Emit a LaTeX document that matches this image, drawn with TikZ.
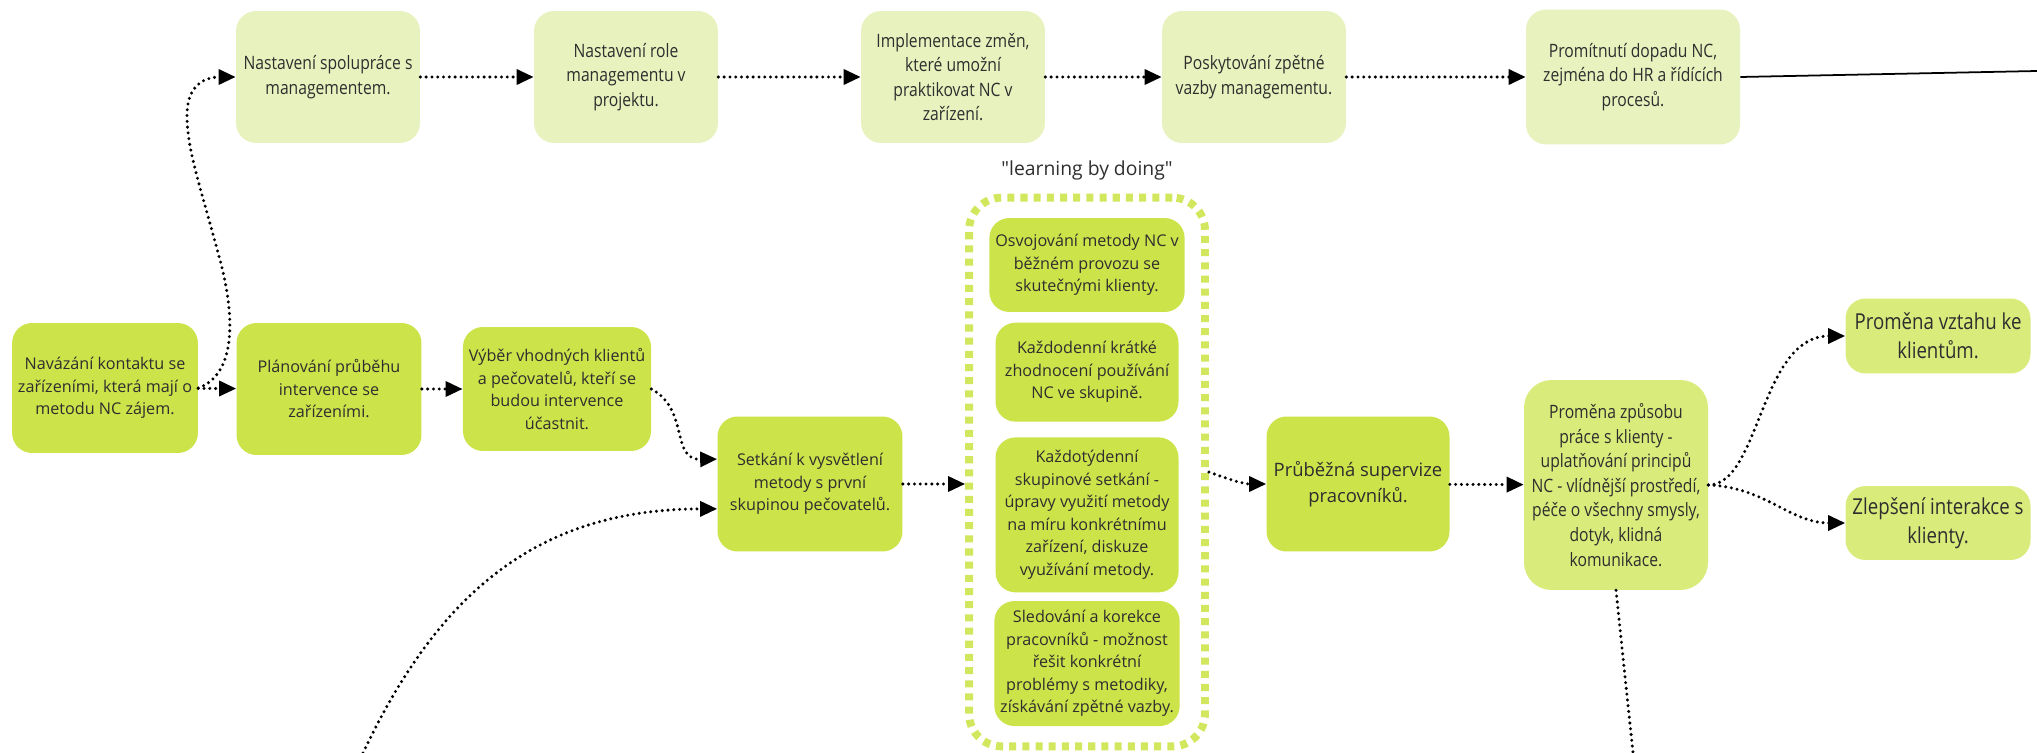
\documentclass[tikz,border=0pt]{standalone}
\usepackage{fontspec}
\setmainfont{Open Sans}
\newfontfamily\condfont{Open Sans}[FakeStretch=0.85]
\usepackage{xcolor}
\usepackage{tikz}
\usetikzlibrary{arrows.meta,positioning,fit}
\tikzset{>={Triangle[width=3mm,length=3.4mm]}}

\definecolor{mgmtgreen}{HTML}{E8F2BE}
\definecolor{stagegreen}{HTML}{CCE34A}
\definecolor{outcomegreen}{HTML}{D9EB7B}
\definecolor{framegreen}{HTML}{D2E75E}
\definecolor{textgray}{HTML}{2E2E2E}

\begin{document}
\begin{tikzpicture}[->, x=0.02cm, y=-0.02cm]
	\tikzstyle{every node}=[text=textgray]
	\tikzstyle{mgmtbox}=[fill=mgmtgreen, rounded corners=0.4cm, align=center, minimum width=3.68cm, minimum height=2.64cm, font=\condfont\fontsize{10.5}{14}\selectfont]
	\tikzstyle{stagebox}=[fill=stagegreen, rounded corners=0.4cm, align=center, minimum width=3.7cm, minimum height=2.64cm, font=\fontsize{9.2}{12.8}\selectfont]
	\tikzstyle{innerbox}=[stagebox, minimum width=3.66cm]
	\tikzstyle{outcomebox}=[fill=outcomegreen, rounded corners=0.4cm, align=center, minimum width=3.7cm, font=\condfont\fontsize{12.5}{16.5}\selectfont]
	\tikzstyle{ldframe}=[draw=framegreen, line width=4.5pt, dash pattern=on 4pt off 3.5pt, rounded corners=0.65cm, inner sep=0.4cm]
	\tikzstyle{flow}=[line width=1.9pt, dash pattern=on 0pt off 3.3pt, line cap=round]

	\useasboundingbox (0,0) rectangle (2037,753);

	% management row
	\node[mgmtbox] (T1) at (328,77) {Nastavení spolupráce s\\managementem.};
	\node[mgmtbox] (T2) at (626,77) {Nastavení role\\managementu v\\projektu.};
	\node[mgmtbox] (T3) at (953,77) {Implementace změn,\\které umožní\\praktikovat NC v\\zařízení.};
	\node[mgmtbox] (T4) at (1254,77) {Poskytování zpětné\\vazby managementu.};
	\node[mgmtbox, minimum width=4.28cm, minimum height=2.7cm] (T5) at (1633,77) {Promítnutí dopadu NC,\\zejména do HR a řídících\\procesů.};
	\coordinate (mgmt-end) at (2037,71);

	\path[flow] (T1) edge (T2) (T2) edge (T3) (T3) edge (T4) (T4) edge (T5);
	\draw[-, line width=1pt] (T5.east) -- (mgmt-end);

	% intervention row
	\node[stagebox, minimum height=2.6cm] (M1) at (105,388) {Navázání kontaktu se\\zařízeními, která mají o\\metodu NC zájem.};
	\node[stagebox] (M2) at (329,389) {Plánování průběhu\\intervence se\\zařízeními.};
	\node[stagebox, minimum height=2.48cm] (M3) at (557,389) {Výběr vhodných klientů\\a pečovatelů, kteří se\\budou intervence\\účastnit.};
	\node[stagebox, minimum height=2.7cm] (M4) at (810,484) {Setkání k vysvětlení\\metody s první\\skupinou pečovatelů.};

	\path[flow] (M1) edge (M2) (M2) edge (M3);
	\draw[flow] (M1.east) .. controls (235,375) and (236,320) .. (220,260) .. controls (200,185) and (187,150) .. (187,115) .. controls (187,85) and (205,77) .. (T1.west);
	\draw[flow] (M3.east) .. controls (690,410) and (670,460) .. (M4.165);
	\coordinate (left-in) at (363,753);
	\draw[flow] (left-in) .. controls (440,590) and (540,509) .. (M4.195);

	% learning by doing
	\node[innerbox, minimum height=1.88cm] (I1) at (1087,265) {Osvojování metody NC v\\běžném provozu se\\skutečnými klienty.};
	\node[innerbox, minimum height=1.98cm, below=0.2cm of I1] (I2) {Každodenní krátké\\zhodnocení používání\\NC ve skupině.};
	\node[innerbox, minimum height=3.1cm, below=0.3cm of I2] (I3) {Každotýdenní\\skupinové setkání -\\úpravy využití metody\\na míru konkrétnímu\\zařízení, diskuze\\využívání metody.};
	\node[innerbox, minimum height=2.5cm, below=0.16cm of I3] (I4) {Sledování a korekce\\pracovníků - možnost\\řešit konkrétní\\problémy s metodiky,\\získávání zpětné vazby.};
	\node[ldframe, fit=(I1)(I4)] (LD) {};
	\node[above=0.15cm of LD, font=\fontsize{11}{13}\selectfont] (LD-label) {\textquotedbl learning by doing\textquotedbl};

	\draw[flow] (M4.east) -- (M4.east -| LD.west);

	% outcomes
	\node[stagebox, minimum width=3.66cm, minimum height=2.7cm, font=\fontsize{10.5}{15}\selectfont] (M5) at (1358,484) {Průběžná supervize\\pracovníků.};
	\node[outcomebox, minimum width=3.68cm, minimum height=4.2cm, rounded corners=0.55cm, font=\condfont\fontsize{10.5}{14}\selectfont] (M6) at (1616,485) {Proměna způsobu\\práce s klienty -\\uplatňování principů\\NC - vlídnější prostředí,\\péče o všechny smysly,\\dotyk, klidná\\komunikace.};
	\node[outcomebox, minimum height=1.5cm] (R1) at (1938,336) {Proměna vztahu ke\\klientům.};
	\node[outcomebox, minimum height=1.48cm] (R2) at (1938,523) {Zlepšení interakce s\\klienty.};
	\coordinate (down-out) at (1633,753);

	\draw[flow] (LD.east) to[out=-20, in=180] (M5.west);
	\path[flow] (M5) edge (M6);
	\draw[flow] (M6.east) .. controls (1760,485) and (1760,336) .. (R1.west);
	\draw[flow] (M6.east) .. controls (1765,487) and (1790,523) .. (R2.west);
	\draw[flow, -] (M6.south) -- (down-out);
\end{tikzpicture}
\end{document}
